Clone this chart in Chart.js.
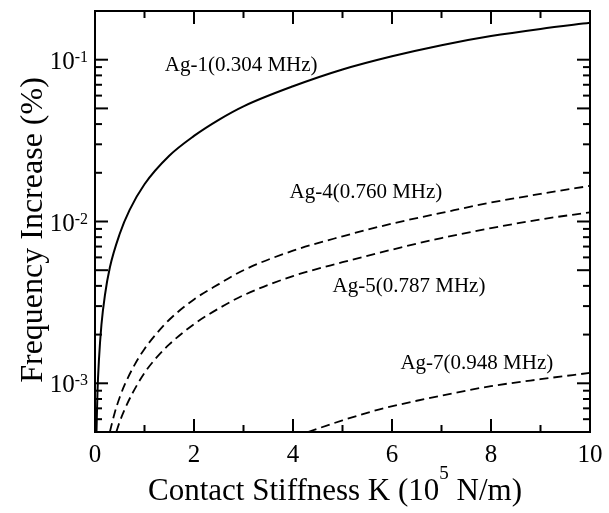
<!DOCTYPE html>
<html>
<head>
<meta charset="utf-8">
<script src="https://cdn.jsdelivr.net/npm/chart.js@4/dist/chart.umd.min.js"></script>
<style>
  html, body { margin: 0; padding: 0; background: #fff; }
  #wrap { width: 609px; height: 513px; }
</style>
</head>
<body>
<div id="wrap"><canvas id="chart" width="609" height="513"></canvas></div>
<script>
// contact stiffness K (1e5 N/m) and frequency increase (%)
const K_AG1 = [0.03, 0.05, 0.08, 0.13, 0.2, 0.3, 0.5, 0.7, 1.0, 1.5, 2, 2.5, 3, 4, 5, 6, 7, 8, 9, 10];
const FI_AG1 = [0.0005, 0.00088, 0.0014, 0.0023, 0.0035, 0.0052, 0.0084, 0.0118, 0.0170, 0.0255, 0.0338, 0.0425, 0.0515, 0.0685, 0.087, 0.105, 0.123, 0.140, 0.155, 0.169];

const K_AG4 = [0.3, 0.4, 0.5, 0.6, 0.8, 1.0, 1.25, 1.5, 2, 2.5, 3, 4, 5, 6, 7, 8, 9, 10];
const FI_AG4 = [0.0005, 0.00066, 0.00082, 0.00098, 0.0013, 0.00163, 0.00204, 0.00247, 0.0033, 0.0041, 0.0050, 0.0066, 0.0081, 0.0097, 0.0113, 0.0131, 0.0148, 0.0166];

const K_AG5 = [0.43, 0.5, 0.6, 0.75, 1.0, 1.25, 1.5, 2, 2.5, 3, 4, 5, 6, 7, 8, 9, 10];
const FI_AG5 = [0.0005, 0.00058, 0.00069, 0.00086, 0.00116, 0.00145, 0.00174, 0.00232, 0.0029, 0.0035, 0.0046, 0.0056, 0.0067, 0.0079, 0.0091, 0.0103, 0.0114];

const K_AG7 = [4.3, 5, 5.75, 6.5, 7.25, 8, 9, 10];
const FI_AG7 = [0.0005, 0.00059, 0.00069, 0.00078, 0.00087, 0.00096, 0.00106, 0.00116];

const SERIES_NAMES = ['Ag-1(0.304 MHz)', 'Ag-4(0.760 MHz)', 'Ag-5(0.787 MHz)', 'Ag-7(0.948 MHz)'];

// where each curve's name sits, in data units (left edge, baseline)
const NAME_K = [1.41, 3.93, 4.80, 6.17];
const NAME_FI = [0.0848, 0.0139, 0.00365, 0.00122];

const X_TICKS = [0, 2, 4, 6, 8, 10];
const Y_DECADES = [-3, -2, -1];

const SERIF = '"Liberation Serif", "Times New Roman", serif';

function toPoints(ks, vals) {
  return ks.map((k, i) => ({ x: k, y: vals[i] }));
}

function curve(ks, vals, dashed) {
  return {
    data: toPoints(ks, vals),
    borderColor: '#000',
    borderWidth: dashed ? 1.8 : 2,
    borderDash: dashed ? [9, 5] : [],
    pointRadius: 0,
    fill: false,
    cubicInterpolationMode: 'monotone',
  };
}

// frame, inward ticks on all four sides and all the text
const framePlugin = {
  id: 'frame',
  afterDraw(chart) {
    let { ctx, chartArea: a, scales } = chart;
    let x = scales.x, y = scales.y;

    ctx.save();
    ctx.strokeStyle = '#000';
    ctx.fillStyle = '#000';
    ctx.lineWidth = 2;
    ctx.strokeRect(a.left, a.top, a.right - a.left, a.bottom - a.top);

    let seg = (x0, y0, x1, y1) => {
      ctx.beginPath();
      ctx.moveTo(x0, y0);
      ctx.lineTo(x1, y1);
      ctx.stroke();
    };

    for (let k = 1; k < 10; k++) {
      let px = x.getPixelForValue(k);
      let len = k % 2 ? 7 : 13;
      seg(px, a.bottom, px, a.bottom - len);
      seg(px, a.top, px, a.top + len);
    }

    for (let e = -4; e <= -1; e++) {
      for (let m = 1; m <= 9; m++) {
        let v = m * Math.pow(10, e);
        if (v <= y.min * 1.001 || v >= y.max * 0.999) continue;
        let py = y.getPixelForValue(v);
        let len = (m === 1 || m === 5) ? 13 : 7;
        seg(a.left, py, a.left + len, py);
        seg(a.right, py, a.right - len, py);
      }
    }

    // x tick labels
    ctx.font = '25px ' + SERIF;
    ctx.textAlign = 'center';
    ctx.textBaseline = 'alphabetic';
    X_TICKS.forEach(k => {
      ctx.fillText(String(k), x.getPixelForValue(k), a.bottom + 30);
    });

    // y tick labels: 10 with a raised exponent
    ctx.textAlign = 'left';
    Y_DECADES.forEach(e => {
      let py = y.getPixelForValue(Math.pow(10, e));
      let exp = '-' + Math.abs(e);
      ctx.font = '16px ' + SERIF;
      let expW = ctx.measureText(exp).width;
      ctx.font = '25px ' + SERIF;
      let baseW = ctx.measureText('10').width;
      let right = a.left - 7;
      ctx.fillText('10', right - expW - baseW, py + 9);
      ctx.font = '16px ' + SERIF;
      ctx.fillText(exp, right - expW, py + 2);
    });

    // curve names
    ctx.font = '21px ' + SERIF;
    SERIES_NAMES.forEach((name, i) => {
      ctx.fillText(name, x.getPixelForValue(NAME_K[i]), y.getPixelForValue(NAME_FI[i]));
    });

    // x axis title with superscript 5
    let big = '31px ' + SERIF, small = '19px ' + SERIF;
    let p1 = 'Contact Stiffness K (10', p2 = '5', p3 = ' N/m)';
    ctx.font = big;
    let w1 = ctx.measureText(p1).width, w3 = ctx.measureText(p3).width;
    ctx.font = small;
    let w2 = ctx.measureText(p2).width;
    let start = 335 - (w1 + w2 + w3) / 2;
    let base = a.bottom + 68;
    ctx.font = big;
    ctx.fillText(p1, start, base);
    ctx.fillText(p3, start + w1 + w2, base);
    ctx.font = small;
    ctx.fillText(p2, start + w1, base - 21);

    // y axis title
    ctx.font = '32px ' + SERIF;
    ctx.textAlign = 'center';
    ctx.translate(42, 230);
    ctx.rotate(-Math.PI / 2);
    ctx.fillText('Frequency Increase (%)', 0, 0);

    ctx.restore();
  },
};

new Chart(document.getElementById('chart'), {
  type: 'line',
  data: {
    datasets: [
      curve(K_AG1, FI_AG1, false),
      curve(K_AG4, FI_AG4, true),
      curve(K_AG5, FI_AG5, true),
      curve(K_AG7, FI_AG7, true),
    ],
  },
  options: {
    responsive: false,
    animation: false,
    devicePixelRatio: 1,
    layout: {
      padding: { left: 95, right: 19, top: 11, bottom: 81 },
    },
    plugins: {
      legend: { display: false },
      tooltip: { enabled: false },
    },
    scales: {
      x: { type: 'linear', min: 0, max: 10, display: false },
      y: { type: 'logarithmic', min: 0.0005, max: 0.2, display: false },
    },
  },
  plugins: [framePlugin],
});
</script>
</body>
</html>
